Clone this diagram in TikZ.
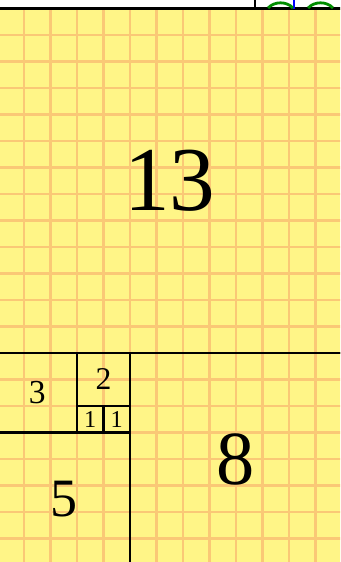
\documentclass[tikz,border=0pt]{standalone}
\usepackage{fontspec}
\setmainfont{Liberation Serif}
\usetikzlibrary{positioning}
\definecolor{paper}{RGB}{255,245,135}
\definecolor{gridline}{RGB}{250,200,118}

\begin{document}
\begin{tikzpicture}[x=0.5cm,y=0.5cm,
  sq/.style={draw=black,line width=1.5pt,inner sep=0pt},
  num/.style={font=\fontsize{#1}{#1}\selectfont}]
\useasboundingbox (0.094,-20.887) rectangle (12.925,0.321);
\clip (0.094,-20.887) rectangle (12.925,0.321);
\fill[white] (0,-21) rectangle (13,1);
\fill[paper] (0,0) rectangle (13,-21);
\draw[gridline,line width=1.2pt,step=0.5cm] (0,-21) grid (13,0);
% the squares, largest first
\node[sq,minimum size=6.5cm,num=49] (s13) at (6.5,-6.5) {13};
\node[sq,minimum size=4cm,num=41] (s8) at (9,-17) {8};
\node[sq,minimum size=2.5cm,num=29] (s5) at (2.5,-18.5) {5};
\node[sq,minimum size=1.5cm,num=18] (s3) at (1.5,-14.5) {3};
\node[sq,minimum size=1cm,num=17] (s2) at (4,-14) {2};
\node[sq,minimum size=0.5cm,num=13] (s1a) at (3.5,-15.5) {1};
\node[sq,minimum size=0.5cm,num=13] (s1b) at (4.5,-15.5) {1};
% bits of the next picture above
\draw[line width=1.5pt] (9.72,0) -- (9.72,0.4);
\draw[blue,line width=1.5pt] (11.19,0) -- (11.19,0.4);
\draw[green!55!black,line width=1.5pt] (10.21,0.02) .. controls (10.45,0.28) and (10.91,0.28) .. (11.15,0.02);
\draw[green!55!black,line width=1.5pt] (11.72,0.02) .. controls (11.96,0.28) and (12.42,0.28) .. (12.66,0.02);
\end{tikzpicture}
\end{document}
